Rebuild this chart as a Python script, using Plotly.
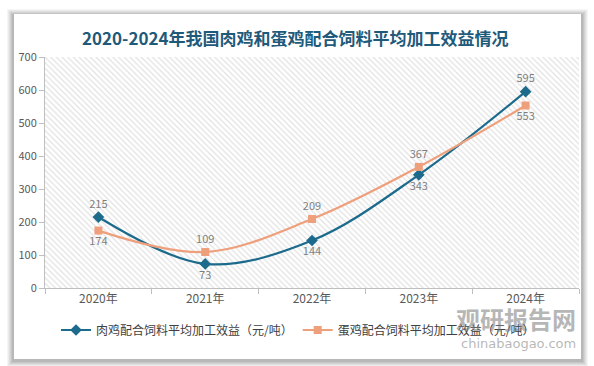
import plotly.graph_objects as go

years = ["2020年", "2021年", "2022年", "2023年", "2024年"]
broiler = [215, 73, 144, 343, 595]
layer = [174, 109, 209, 367, 553]
broiler_pos = ["top center", "bottom center", "bottom center", "bottom center", "top center"]
layer_pos = ["bottom center", "top center", "top center", "top center", "bottom center"]
y_ticks = [0, 100, 200, 300, 400, 500, 600, 700]
name_broiler = "肉鸡配合饲料平均加工效益（元/吨）"
name_layer = "蛋鸡配合饲料平均加工效益（元/吨）"
title = "2020-2024年我国肉鸡和蛋鸡配合饲料平均加工效益情况"

W, H = 594, 366
L, R, T, B = 45, 15, 57, 78
pw, ph = W - L - R, H - T - B


def px(x):
    return (x - L) / pw


def py(y):
    return 1 - (y - T) / ph


BLUE = "#1c6a8c"
ORANGE = "#ee9f7c"
FONT = "Noto Sans CJK SC"

fig = go.Figure()

# hatched plot background
fig.add_trace(go.Bar(
    x=years, y=[y_ticks[-1]] * len(years), width=1,
    marker=dict(color="white", line=dict(width=0),
                pattern=dict(shape="\\", fgcolor="#c4c4c4", bgcolor="white", size=4, solidity=0.3)),
    hoverinfo="skip", showlegend=False,
))

fig.add_trace(go.Scatter(
    x=years, y=broiler, name=name_broiler, mode="lines+markers+text",
    line=dict(color=BLUE, width=2.2, shape="spline", smoothing=1),
    marker=dict(symbol="diamond", size=9, color=BLUE),
    text=[str(v) for v in broiler], textposition=broiler_pos,
    textfont=dict(color="#7f7f7f", size=11, family=FONT),
))
fig.add_trace(go.Scatter(
    x=years, y=layer, name=name_layer, mode="lines+markers+text",
    line=dict(color=ORANGE, width=2.2, shape="spline", smoothing=1),
    marker=dict(symbol="square", size=8, color=ORANGE),
    text=[str(v) for v in layer], textposition=layer_pos,
    textfont=dict(color="#7f7f7f", size=11, family=FONT),
))

shapes = []
# card shadow
for i, op in enumerate([0.04, 0.04, 0.05, 0.05, 0.06, 0.07]):
    g = 7 - i
    shapes.append(dict(type="rect", xref="paper", yref="paper", layer="below",
                       x0=px(14 - g), x1=px(581 + g), y0=py(359 + g + 1), y1=py(14 - g + 2),
                       fillcolor=f"rgba(0,0,0,{op})", line=dict(width=0)))
shapes.append(dict(type="rect", xref="paper", yref="paper", layer="below",
                   x0=px(14), x1=px(581), y0=py(359), y1=py(14),
                   fillcolor="white", line=dict(width=0)))

annotations = [
    dict(text=f"<b>{title}</b>", xref="paper", yref="paper", x=px(295), y=py(37),
         showarrow=False, font=dict(size=17, color="#1f5a7a", family=FONT), xanchor="center", yanchor="middle"),
    dict(text="<b>观研报告网</b>", xref="paper", yref="paper", x=px(578), y=py(318),
         showarrow=False, font=dict(size=24, color="rgba(110,110,110,0.5)", family=FONT), xanchor="right", yanchor="middle"),
    dict(text="chinabaogao.com", xref="paper", yref="paper", x=px(578), y=py(343),
         showarrow=False, font=dict(size=13, color="rgba(110,110,110,0.5)", family="DejaVu Sans"), xanchor="right", yanchor="middle"),
]

fig.update_layout(
    width=W, height=H, margin=dict(l=L, r=R, t=T, b=B),
    paper_bgcolor="white", plot_bgcolor="white",
    shapes=shapes, annotations=annotations,
    showlegend=True, bargap=0,
    legend=dict(orientation="h", x=px(298), xanchor="center", y=py(330), yanchor="middle",
                font=dict(size=12, color="#404040", family=FONT), bgcolor="rgba(0,0,0,0)",
                itemwidth=30, tracegroupgap=0),
    xaxis=dict(type="category", showgrid=True, gridcolor="#d9d9d9", tickson="boundaries",
               ticks="outside", ticklen=5, tickcolor="#bfbfbf", showline=True, linecolor="#bfbfbf",
               tickfont=dict(size=12, color="#595959", family=FONT), range=[-0.5, 4.5]),
    yaxis=dict(range=[0, y_ticks[-1]], tickvals=y_ticks, showgrid=False, zeroline=False,
               ticks="outside", ticklen=5, tickcolor="#bfbfbf", showline=True, linecolor="#bfbfbf",
               tickfont=dict(size=11, color="#595959", family=FONT)),
)

fig.write_html("out.html", config={"displayModeBar": False},
               post_script="document.body.style.margin='0';document.body.style.overflow='hidden';")
